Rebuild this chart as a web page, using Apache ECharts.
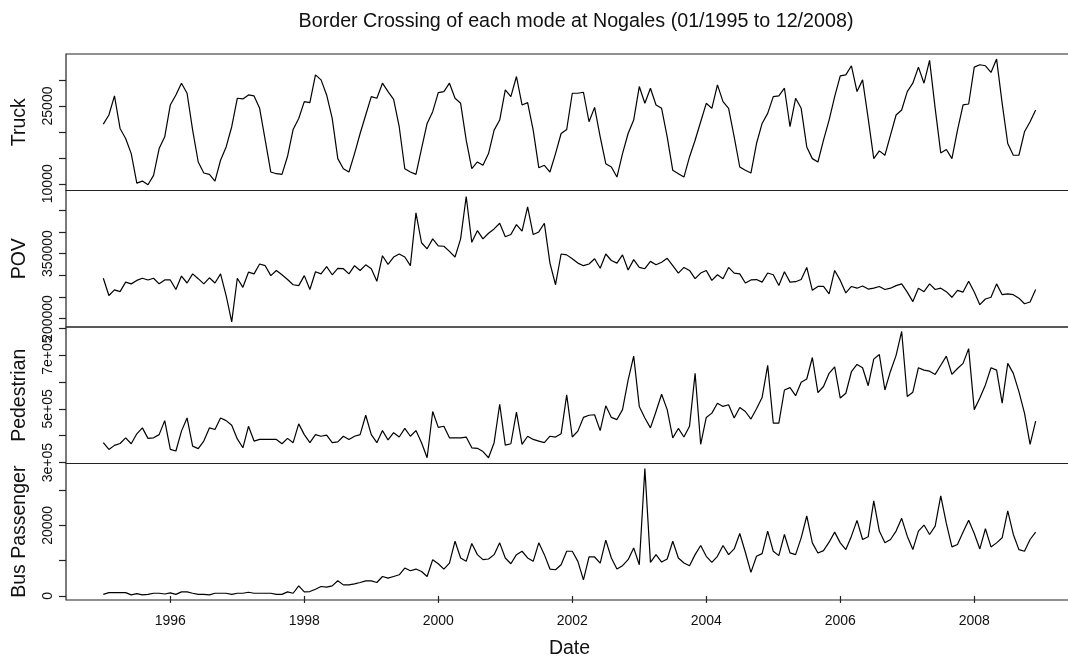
<!DOCTYPE html>
<html>
<head>
<meta charset="utf-8">
<title>Border Crossing at Nogales</title>
<script src="https://cdn.jsdelivr.net/npm/echarts@6/dist/echarts.min.js"></script>
<style>
  html, body { margin: 0; padding: 0; background: #fff; }
  #chart { width: 1068px; height: 656px; }
</style>
</head>
<body>
<div id="chart"></div>
<script>
// Monthly crossings at Nogales, Jan 1995 .. Dec 2008
const startYear = 1995;

const truck = [
  21510, 23260, 26940, 20670, 18730, 15820, 10130, 10520, 9800, 11620, 16790, 19050,
  25200, 27130, 29400, 27460, 20350, 14200, 12070, 11810, 10520, 14530, 17110, 21000,
  26490, 26360, 27130, 26940, 24550, 18400, 12260, 11940, 11810, 15300, 20470, 22600,
  25840, 25650, 31010, 30040, 27130, 22600, 14850, 12900, 12260, 15820, 19700, 23260,
  26810, 26490, 29400, 27780, 26290, 21000, 12900, 12260, 11810, 16790, 21640, 23900,
  27590, 27780, 29400, 26490, 25520, 18400, 12900, 14200, 13560, 15820, 20350, 22290,
  28100, 26810, 30690, 25200, 25650, 20350, 13100, 13560, 12260, 15820, 19700, 20470,
  27460, 27460, 27650, 21960, 24740, 19050, 13880, 13230, 11290, 15820, 19700, 22290,
  28750, 25520, 28430, 25200, 24550, 19050, 12590, 11940, 11290, 15170, 18400, 21960,
  25520, 24550, 29070, 25840, 24550, 19050, 13230, 12590, 12070, 17760, 21640, 23580,
  26810, 26940, 28430, 21000, 26490, 24550, 17110, 14850, 14200, 18400, 22290, 26810,
  30820, 31010, 32760, 27780, 30040, 22610, 14850, 16340, 15500, 19380, 23260, 24230,
  27780, 29400, 32500, 29400, 33800, 24550, 15950, 16600, 14850, 20350, 25200, 25390,
  32500, 32950, 32760, 31470, 34050, 25520, 17760, 15500, 15500, 20020, 21960, 24230
];

const pov = [
  293000, 253000, 266000, 262000, 284000, 280000, 288000, 293000, 289000, 293000, 280000, 289000,
  289000, 267000, 298000, 282000, 303000, 292000, 280000, 294000, 282000, 303000, 253000, 192000,
  293000, 272000, 307000, 303000, 326000, 322000, 299000, 311000, 301000, 290000, 278000, 276000,
  299000, 267000, 308000, 303000, 320000, 301000, 316000, 315000, 303000, 322000, 311000, 324000,
  315000, 286000, 345000, 325000, 342000, 349000, 342000, 322000, 444000, 375000, 361000, 384000,
  368000, 367000, 355000, 342000, 384000, 482000, 376000, 403000, 384000, 397000, 407000, 420000,
  389000, 394000, 417000, 402000, 458000, 394000, 400000, 420000, 328000, 278000, 349000, 347000,
  338000, 328000, 322000, 326000, 338000, 316000, 349000, 334000, 328000, 347000, 312000, 336000,
  318000, 315000, 332000, 324000, 330000, 339000, 322000, 305000, 318000, 311000, 292000, 305000,
  311000, 288000, 301000, 292000, 318000, 305000, 303000, 282000, 289000, 290000, 284000, 305000,
  301000, 276000, 308000, 284000, 285000, 290000, 318000, 265000, 274000, 274000, 257000, 311000,
  288000, 259000, 274000, 270000, 275000, 268000, 270000, 274000, 267000, 270000, 276000, 280000,
  261000, 239000, 270000, 262000, 280000, 267000, 270000, 262000, 249000, 265000, 261000, 286000,
  261000, 232000, 245000, 249000, 280000, 255000, 257000, 255000, 247000, 234000, 238000, 267000
];

const pedestrian = [
  374000, 349000, 364000, 371000, 392000, 370000, 407000, 429000, 390000, 392000, 404000, 456000,
  349000, 343000, 417000, 466000, 361000, 352000, 380000, 429000, 423000, 466000, 456000, 439000,
  388000, 355000, 435000, 380000, 386000, 386000, 386000, 386000, 370000, 390000, 374000, 444000,
  404000, 374000, 404000, 398000, 402000, 374000, 377000, 398000, 386000, 398000, 404000, 476000,
  404000, 374000, 419000, 384000, 411000, 395000, 427000, 398000, 419000, 374000, 318000, 490000,
  431000, 435000, 392000, 392000, 392000, 395000, 355000, 353000, 341000, 318000, 374000, 517000,
  365000, 370000, 488000, 368000, 398000, 386000, 380000, 374000, 398000, 395000, 407000, 552000,
  395000, 417000, 468000, 476000, 478000, 419000, 511000, 468000, 460000, 497000, 607000, 696000,
  509000, 466000, 429000, 490000, 554000, 497000, 392000, 427000, 395000, 435000, 632000, 368000,
  468000, 484000, 521000, 509000, 515000, 466000, 505000, 490000, 462000, 500000, 542000, 662000,
  447000, 447000, 570000, 579000, 549000, 599000, 611000, 691000, 560000, 583000, 632000, 656000,
  540000, 558000, 638000, 665000, 653000, 586000, 685000, 702000, 570000, 640000, 699000, 788000,
  546000, 562000, 653000, 644000, 640000, 628000, 662000, 696000, 628000, 650000, 669000, 724000,
  497000, 540000, 589000, 653000, 644000, 521000, 669000, 632000, 564000, 484000, 368000, 454000
];

const busPassenger = [
  450, 950, 950, 950, 950, 300, 650, 300, 450, 760, 760, 550,
  860, 450, 1140, 1140, 760, 450, 450, 300, 760, 760, 760, 450,
  760, 760, 1050, 760, 760, 760, 760, 450, 450, 1140, 760, 2860,
  1140, 1240, 1900, 2670, 2480, 2860, 4290, 3140, 3140, 3430, 3810, 4290,
  4290, 3810, 5520, 5050, 5520, 6000, 7900, 7140, 7620, 6950, 5520, 10290,
  9140, 7620, 9330, 15520, 10760, 9810, 14860, 11710, 10290, 10480, 11710, 15050,
  10760, 9140, 11710, 12670, 10760, 9810, 15050, 11710, 7620, 7430, 8860, 12670,
  12670, 9810, 4570, 11050, 11050, 9330, 15810, 10760, 7620, 8570, 10290, 13620,
  8860, 36100, 9520, 11710, 9620, 10480, 15520, 10760, 9330, 8570, 11710, 14290,
  11240, 9520, 11240, 14290, 11710, 13330, 17710, 12380, 6670, 11240, 12000, 18380,
  12670, 11430, 17430, 12190, 11710, 16480, 22670, 15050, 12190, 12860, 15240, 18100,
  15050, 13140, 16950, 21430, 16000, 16760, 26950, 18380, 15050, 16000, 18380, 22000,
  16950, 13140, 18380, 20100, 17430, 19810, 28380, 20570, 13900, 14570, 18100, 21430,
  17710, 13330, 19050, 13900, 15050, 16480, 24100, 17430, 13140, 12670, 16000, 18100
];

// Axis ticks and the labels that are printed on them
const yearTicks = [1996, 1998, 2000, 2002, 2004, 2006, 2008];
const truckTicks = [10000, 15000, 20000, 25000, 30000];
const truckLabels = [10000, 25000];
const povTicks = [200000, 250000, 300000, 350000, 400000, 450000];
const povLabels = [200000, 350000];
const pedTicks = [300000, 400000, 500000, 600000, 700000, 800000];
const pedLabels = [300000, 500000, 700000];
const busTicks = [0, 10000, 20000, 30000];
const busLabels = [0, 20000];

const panelNames = ['Truck', 'POV', 'Pedestrian', 'Bus Passenger'];
const FONT = '"Liberation Sans", Arial, sans-serif';

// R-style scientific notation, e.g. 500000 -> "5e+05"
function sci(v) {
  if (v === 0) return '0';
  const e = Math.floor(Math.log10(Math.abs(v)));
  const m = v / Math.pow(10, e);
  return m + 'e+' + String(e).padStart(2, '0');
}

const panels = [
  { data: truck, min: 8700, max: 35030, ticks: truckTicks, labels: truckLabels, fmt: v => String(v) },
  { data: pov, min: 180300, max: 495800, ticks: povTicks, labels: povLabels, fmt: v => String(v) },
  { data: pedestrian, min: 296500, max: 804500, ticks: pedTicks, labels: pedLabels, fmt: sci },
  { data: busPassenger, min: -1150, max: 37550, ticks: busTicks, labels: busLabels, fmt: v => String(v) }
];

const time = truck.map((_, i) => startYear + i / 12);

// The plot region runs past the right edge of the page, so no right-hand frame is seen
const gridLeft = 66, gridWidth = 1007, panelTop = 54, panelH = 136.5;

const option = {
  animation: false,
  backgroundColor: '#ffffff',
  title: {
    text: 'Border Crossing of each mode at Nogales (01/1995 to 12/2008)',
    left: 571,
    top: 7,
    textAlign: 'center',
    textStyle: { fontFamily: FONT, fontSize: 19.7, fontWeight: 'normal', color: '#111' }
  },
  grid: panels.map((p, i) => ({
    left: gridLeft,
    width: gridWidth,
    top: panelTop + i * panelH,
    height: panelH,
    outerBoundsMode: 'none',
    containLabel: false,
    show: true,
    borderColor: '#222',
    borderWidth: 1.2,
    backgroundColor: 'transparent'
  })),
  xAxis: panels.map((p, i) => {
    const last = i === panels.length - 1;
    return {
      type: 'value',
      gridIndex: i,
      min: 1994.443,
      max: 2009.474,
      axisLine: { show: false },
      splitLine: { show: false },
      axisTick: {
        show: last,
        length: 7,
        customValues: yearTicks,
        lineStyle: { color: '#222', width: 1.2 }
      },
      axisLabel: {
        show: last,
        customValues: yearTicks,
        margin: 14,
        fontFamily: FONT,
        fontSize: 14,
        color: '#111',
        formatter: v => String(Math.round(v))
      },
      name: last ? 'Date' : '',
      nameLocation: 'middle',
      nameGap: 39,
      nameTextStyle: { fontFamily: FONT, fontSize: 19.5, color: '#111' }
    };
  }),
  yAxis: panels.map((p, i) => ({
    type: 'value',
    gridIndex: i,
    min: p.min,
    max: p.max,
    axisLine: { show: false },
    splitLine: { show: false },
    axisTick: {
      show: true,
      length: 7,
      customValues: p.ticks,
      lineStyle: { color: '#222', width: 1.2 }
    },
    axisLabel: {
      show: true,
      customValues: p.labels,
      rotate: 90,
      margin: 11,
      fontFamily: FONT,
      fontSize: 14,
      color: '#111',
      formatter: p.fmt
    },
    name: panelNames[i],
    nameLocation: 'middle',
    nameGap: 36,
    nameTextStyle: { fontFamily: FONT, fontSize: 19.5, color: '#111' }
  })),
  series: panels.map((p, i) => ({
    type: 'line',
    xAxisIndex: i,
    yAxisIndex: i,
    data: p.data.map((v, k) => [time[k], v]),
    showSymbol: false,
    symbol: 'none',
    lineStyle: { color: '#000', width: 1.2 },
    emphasis: { disabled: true }
  }))
};

const chart = echarts.init(document.getElementById('chart'), null, { renderer: 'canvas' });
chart.setOption(option);
</script>
</body>
</html>
